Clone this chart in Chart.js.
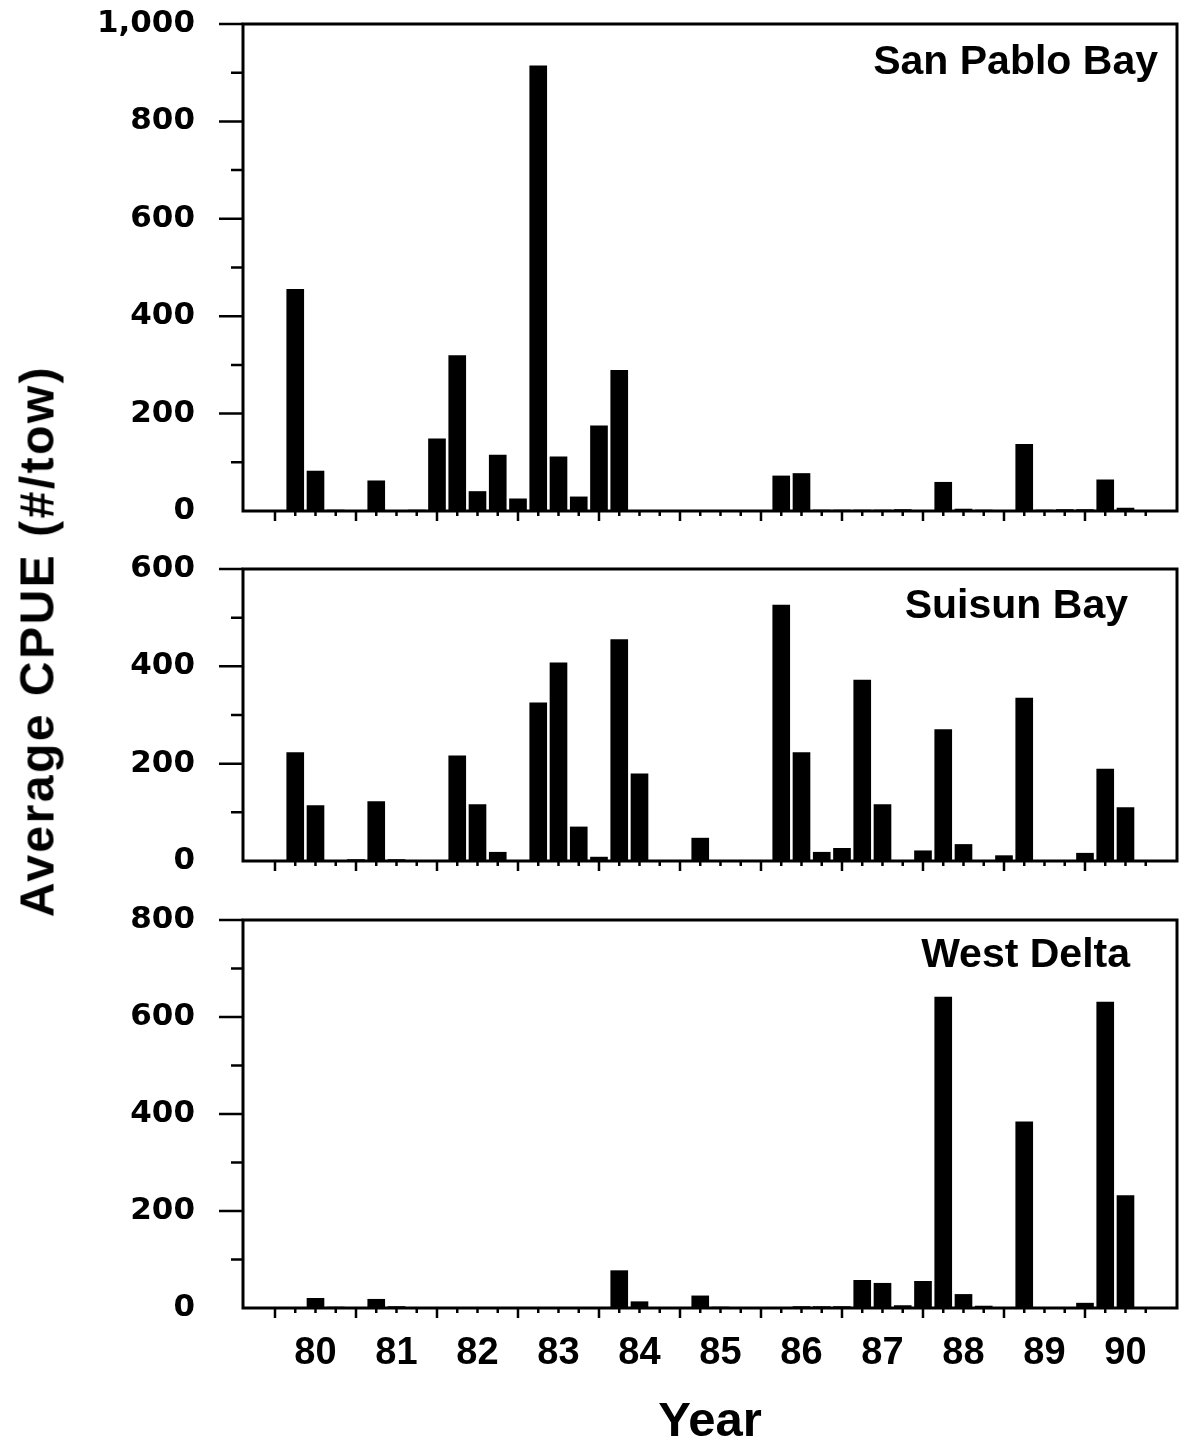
<!DOCTYPE html>
<html>
<head>
<meta charset="utf-8">
<title>Average CPUE by region</title>
<script src="https://cdn.jsdelivr.net/npm/chart.js@4.4.1/dist/chart.umd.min.js"></script>
<style>
  html, body { margin: 0; padding: 0; background: #fff; }
  #page { position: relative; width: 1183px; height: 1447px; overflow: hidden; }
  #page canvas { position: absolute; left: 0; }
  #ytitle {
    position: absolute; left: 37px; top: 641px;
    transform: translate(-50%, -50%) rotate(-90deg);
    font: bold 48px 'Liberation Sans', Arial, sans-serif;
    letter-spacing: 2.5px; white-space: nowrap; color: #000;
  }
</style>
</head>
<body>
<div id="page">
  <canvas id="spChart" width="1183" height="531" style="top:0px"></canvas>
  <canvas id="suChart" width="1183" height="336" style="top:545px"></canvas>
  <canvas id="wdChart" width="1183" height="551" style="top:896px"></canvas>
  <div id="ytitle">Average CPUE (#/tow)</div>
</div>
<script>
// sampling slots, 4 per year (80.00 ... 90.75)
const slotYears = [
  80, 80.25, 80.5, 80.75, 81, 81.25, 81.5, 81.75, 82, 82.25, 82.5, 82.75,
  83, 83.25, 83.5, 83.75, 84, 84.25, 84.5, 84.75, 85, 85.25, 85.5, 85.75,
  86, 86.25, 86.5, 86.75, 87, 87.25, 87.5, 87.75, 88, 88.25, 88.5, 88.75,
  89, 89.25, 89.5, 89.75, 90, 90.25, 90.5, 90.75
];
const years = [80, 81, 82, 83, 84, 85, 86, 87, 88, 89, 90];

// average CPUE (#/tow), one value per slot
const sanPablo = [
  0, 455, 82, 2, 0, 62, 0, 2, 148, 319, 40, 115,
  25, 914, 111, 29, 175, 289, 0, 0, 0, 0, 0, 0,
  0, 72, 77, 2, 2, 2, 2, 3, 0, 59, 4, 2,
  0, 137, 2, 3, 3, 64, 6, 0
];
const suisun = [
  0, 223, 114, 0, 3, 122, 3, 0, 0, 216, 116, 18,
  0, 325, 407, 70, 8, 455, 179, 0, 0, 47, 0, 0,
  0, 526, 223, 18, 26, 372, 116, 0, 21, 270, 34, 0,
  11, 335, 0, 0, 16, 189, 110, 0
];
const westDelta = [
  0, 0, 20, 2, 0, 18, 3, 0, 0, 0, 0, 0,
  0, 0, 0, 0, 0, 77, 13, 0, 0, 25, 2, 0,
  0, 0, 3, 3, 3, 57, 51, 5, 55, 641, 28, 4,
  0, 384, 0, 0, 10, 631, 232, 0
];

const spMax = 1000, suMax = 600, wdMax = 800;

const panelDeco = {
  id: 'panelDeco',
  afterDraw(chart, args, opts) {
    const { ctx, chartArea: a, scales: { x, y } } = chart;
    ctx.save();
    ctx.strokeStyle = '#000';
    ctx.lineWidth = 2.5;
    ctx.beginPath();
    for (let v = 100; v <= y.max; v += 100) {
      const py = y.getPixelForValue(v);
      const len = v % 200 === 0 ? 24 : 12;
      ctx.moveTo(a.left - len, py);
      ctx.lineTo(a.left, py);
    }
    slotYears.forEach(t => {
      const px = x.getPixelForValue(t);
      const len = Number.isInteger(t) ? 10 : 5;
      ctx.moveTo(px, a.bottom);
      ctx.lineTo(px, a.bottom + len);
    });
    ctx.stroke();
    ctx.lineWidth = 3;
    ctx.strokeRect(a.left, a.top, a.right - a.left, a.bottom - a.top);
    ctx.fillStyle = '#000';
    ctx.font = 'bold 41px "Liberation Sans", Arial, sans-serif';
    ctx.textAlign = 'right';
    ctx.textBaseline = 'alphabetic';
    ctx.fillText(opts.label, opts.right, opts.baseline);
    ctx.restore();
  }
};

function drawPanel(id, series, yMax, deco, bottom) {
  const showYears = !!bottom;
  return new Chart(document.getElementById(id), {
    type: 'bar',
    data: {
      datasets: [{
        data: slotYears.map((t, i) => ({ x: t, y: series[i] })),
        backgroundColor: '#000',
        borderWidth: 0,
        barThickness: 17
      }]
    },
    options: {
      responsive: false,
      animation: false,
      events: [],
      layout: { padding: { top: 24, right: 6, bottom: 0, left: 0 } },
      plugins: { legend: { display: false }, tooltip: { enabled: false }, panelDeco: deco },
      scales: {
        x: {
          type: 'linear',
          offset: false,
          min: 79.605,
          max: 91.136,
          grid: { display: false, drawTicks: false },
          border: { display: false },
          afterBuildTicks: s => { s.ticks = years.map(yr => ({ value: yr + 0.5 })); },
          afterFit: s => { s.height = showYears ? bottom : 20; s.paddingLeft = 0; s.paddingRight = 0; },
          ticks: {
            display: showYears,
            autoSkip: false,
            maxRotation: 0,
            padding: 23,
            color: '#000',
            font: { family: '"Liberation Sans", Arial, sans-serif', size: 38, weight: 'bold' },
            callback: v => String(Math.floor(v))
          },
          title: {
            display: showYears,
            text: 'Year',
            color: '#000',
            padding: { top: 0, bottom: 0 },
            font: { family: '"Liberation Sans", Arial, sans-serif', size: 49, weight: 'bold', lineHeight: 1 }
          }
        },
        y: {
          min: 0,
          max: yMax,
          grid: { display: false, drawTicks: false },
          border: { display: false },
          afterFit: s => { s.width = 243; s.paddingTop = 0; s.paddingBottom = 0; },
          ticks: {
            stepSize: 200,
            padding: 48,
            color: '#000',
            font: { family: '"DejaVu Sans", sans-serif', size: 31, weight: 'bold' },
            callback: v => v.toLocaleString('en-US')
          }
        }
      }
    },
    plugins: [panelDeco]
  });
}

drawPanel('spChart', sanPablo, spMax, { label: 'San Pablo Bay', right: 1158, baseline: 74 });
drawPanel('suChart', suisun, suMax, { label: 'Suisun Bay', right: 1128, baseline: 73 });
drawPanel('wdChart', westDelta, wdMax, { label: 'West Delta', right: 1130, baseline: 71 }, 139);
</script>
</body>
</html>
